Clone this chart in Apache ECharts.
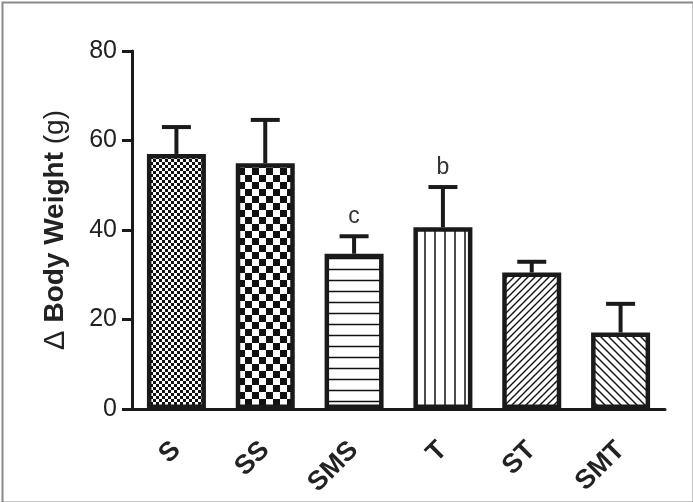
<!DOCTYPE html>
<html>
<head>
<meta charset="utf-8">
<script src="https://cdn.jsdelivr.net/npm/echarts@6/dist/echarts.min.js"></script>
<style>
html,body{margin:0;padding:0;background:#fff;}
#c{width:693px;height:502px;}
</style>
</head>
<body>
<div id="c"></div>
<script>
const categories = ['S', 'SS', 'SMS', 'T', 'ST', 'SMT'];
const means = [57.0, 54.9, 34.7, 40.6, 30.5, 17.1];
const sem = [6.0, 9.7, 3.9, 9.0, 2.4, 6.4];
const letters = ['', '', 'c', 'b', '', ''];
const yTicks = [0, 20, 40, 60, 80];

function pat(w, h, draw) {
  const c = document.createElement('canvas');
  c.width = w; c.height = h;
  const ctx = c.getContext('2d');
  ctx.fillStyle = '#fff'; ctx.fillRect(0, 0, w, h);
  ctx.fillStyle = '#111'; ctx.strokeStyle = '#111';
  draw(ctx, w, h);
  return { image: c, repeat: 'repeat' };
}
const patterns = [
  pat(6, 6, (x) => { x.fillRect(0, 0, 3, 3); x.fillRect(3, 3, 3, 3); }),
  pat(14, 14, (x) => { x.fillRect(0, 0, 7, 7); x.fillRect(7, 7, 7, 7); }),
  pat(11, 11, (x) => { x.lineWidth = 1.5; x.beginPath(); x.moveTo(0, 5.5); x.lineTo(11, 5.5); x.stroke(); }),
  pat(10, 10, (x) => { x.lineWidth = 1.5; x.beginPath(); x.moveTo(5, 0); x.lineTo(5, 10); x.stroke(); }),
  pat(7, 7, (x) => { x.lineWidth = 1.4; x.beginPath(); x.moveTo(-1, 8); x.lineTo(8, -1); x.moveTo(-1, 1); x.lineTo(1, -1); x.moveTo(6, 8); x.lineTo(8, 6); x.stroke(); }),
  pat(8, 8, (x) => { x.lineWidth = 1.4; x.beginPath(); x.moveTo(-1, -1); x.lineTo(9, 9); x.moveTo(-1, 7); x.lineTo(1, 9); x.moveTo(7, -1); x.lineTo(9, 1); x.stroke(); })
];

const chart = echarts.init(document.getElementById('c'));
const FONT = 'Liberation Sans, Arial, sans-serif';
chart.setOption({
  animation: false,
  backgroundColor: '#fff',
  graphic: [{
    type: 'rect', left: 0, top: 0, shape: { x: 1, y: 1, width: 691, height: 500 },
    style: { fill: 'none', stroke: '#8a8a8a', lineWidth: 2 }, silent: true
  }],
  grid: { left: 132, right: 28, top: 51, bottom: 93 },
  xAxis: {
    type: 'category',
    data: categories,
    axisLine: { lineStyle: { color: '#1a1a1a', width: 3 } },
    axisTick: { alignWithLabel: true, length: 10, lineStyle: { color: '#1a1a1a', width: 3 } },
    axisLabel: { rotate: 45, margin: 37, fontSize: 27, fontWeight: 'bold', color: '#222', fontFamily: FONT }
  },
  yAxis: {
    type: 'value', min: 0, max: 80, interval: 20,
    axisLine: { show: true, lineStyle: { color: '#1a1a1a', width: 3 } },
    axisTick: { show: true, length: 10, lineStyle: { color: '#1a1a1a', width: 3 } },
    splitLine: { show: false },
    axisLabel: { fontSize: 25, color: '#222', margin: 15, fontFamily: FONT,
      formatter: (v) => yTicks.includes(v) ? String(v) : '' },
    name: '{d|Δ }{b|Body Weight }{r|(g)}',
    nameLocation: 'middle',
    nameGap: 62,
    nameTextStyle: {
      rich: {
        d: { fontSize: 29, color: '#222', fontFamily: FONT },
        b: { fontSize: 28, fontWeight: 'bold', color: '#222', fontFamily: FONT },
        r: { fontSize: 28, color: '#222', fontFamily: FONT }
      }
    }
  },
  series: [
    {
      type: 'custom',
      data: means.map((m, i) => [i, m, m + sem[i]]),
      z: 1,
      renderItem: function (params, api) {
        const i = api.value(0);
        const p0 = api.coord([i, api.value(1)]);
        const p1 = api.coord([i, api.value(2)]);
        const half = 14.5;
        const children = [
          { type: 'line', shape: { x1: p0[0], y1: p0[1], x2: p1[0], y2: p1[1] }, style: { stroke: '#1a1a1a', lineWidth: 4 } },
          { type: 'line', shape: { x1: p1[0] - half, y1: p1[1], x2: p1[0] + half, y2: p1[1] }, style: { stroke: '#1a1a1a', lineWidth: 4 } }
        ];
        if (letters[i]) {
          children.push({ type: 'text', style: { text: letters[i], x: p1[0], y: p1[1] - 8, align: 'center', verticalAlign: 'bottom', fontSize: 23, fill: '#333', fontFamily: FONT } });
        }
        return { type: 'group', children: children };
      }
    },
    {
      type: 'bar',
      z: 2,
      barWidth: 59,
      data: means.map((m, i) => ({ value: m, itemStyle: { color: patterns[i], borderColor: '#1a1a1a', borderWidth: 4.5 } }))
    }
  ]
});
</script>
</body>
</html>
